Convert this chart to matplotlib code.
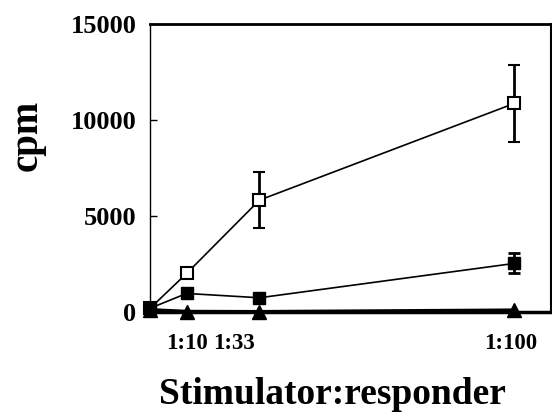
import matplotlib
matplotlib.use("Agg")
import matplotlib.pyplot as plt

# stimulator:responder ratio positions (0 = responder alone)
x_pos = [0, 10, 30, 100]
tick_pos = [10, 23, 99]
tick_labels = ["1:10", "1:33", "1:100"]

open_sq = [200, 2010, 5830, 10870]
open_sq_err = [0, 0, 1450, 2000]
filled_sq = [200, 970, 745, 2535]
filled_sq_err = [0, 0, 0, 520]
triangles = [120, 30, 20, 100]

plt.rcParams["font.family"] = "Liberation Serif"
plt.rcParams["font.weight"] = "bold"

fig = plt.figure(figsize=(5.52, 4.15), dpi=100)
ax = fig.add_axes([0.272, 0.248, 0.726, 0.694])

ax.plot(x_pos, triangles, color="black", lw=2.5, marker="^", ms=10,
        clip_on=False, zorder=3)
ax.errorbar(x_pos, open_sq, yerr=open_sq_err, color="black", lw=1.2,
            marker="s", ms=9, mfc="white", mec="black", mew=1.5,
            ecolor="black", elinewidth=2, capsize=4, capthick=2,
            clip_on=False, zorder=4)
ax.errorbar(x_pos, filled_sq, yerr=filled_sq_err, color="black", lw=1.2,
            marker="s", ms=9, mfc="black", mec="black",
            ecolor="black", elinewidth=2, capsize=4, capthick=2,
            clip_on=False, zorder=5)

ax.set_xlim(0, 110)
ax.set_ylim(0, 15000)
ax.set_yticks([0, 5000, 10000, 15000])
ax.tick_params(axis="y", direction="in", length=5, width=1, labelsize=19, pad=10)
ax.set_xticks(tick_pos)
ax.set_xticklabels(tick_labels)
ax.tick_params(axis="x", length=0, labelsize=16.5, pad=15)
for lbl in ax.get_xticklabels() + ax.get_yticklabels():
    lbl.set_fontweight("bold")

ax.spines["left"].set_linewidth(1)
ax.spines["top"].set_linewidth(2)
ax.spines["right"].set_linewidth(1.5)
ax.spines["bottom"].set_linewidth(2.5)

ax.set_ylabel("cpm", fontsize=28, fontweight="bold")
ax.yaxis.set_label_coords(-0.26, 0.615)
ax.set_xlabel("Stimulator:responder", fontsize=27, fontweight="bold")
ax.xaxis.set_label_coords(0.455, -0.225)

fig.savefig("out.png", dpi=100)
